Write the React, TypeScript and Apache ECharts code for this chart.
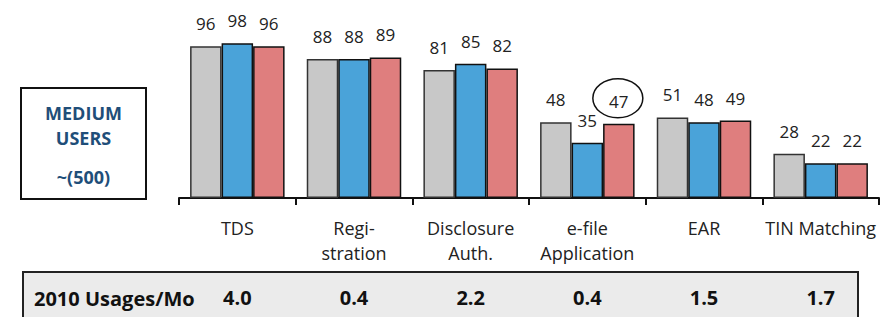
import React, { useEffect, useRef } from "react";
import * as echarts from "echarts";

const categories = ["TDS", "Regi-\nstration", "Disclosure\nAuth.", "e-file\nApplication", "EAR", "TIN Matching"];
const seriesGray = [96, 88, 81, 48, 51, 28];
const seriesBlue = [98, 88, 85, 35, 48, 22];
const seriesRed = [96, 89, 82, 47, 49, 22];
const usages = ["4.0", "0.4", "2.2", "0.4", "1.5", "1.7"];
const usagesTitle = "2010 Usages/Mo";
const boxLines = ["MEDIUM", "USERS", "~(500)"];
const circledSeries = 2;
const circledIndex = 3;

const FONT = "Open Sans";

export default function App() {
  const ref = useRef<HTMLDivElement>(null);
  useEffect(() => {
    document.body.style.margin = "0";
    if (!ref.current) return;
    const chart = echarts.init(ref.current, null, { renderer: "svg" });
    const label = {
      show: true,
      position: "top" as const,
      distance: 14,
      fontSize: 17,
      color: "#222",
      fontFamily: FONT,
    };
    const mk = (name: string, data: number[], color: string, border: string) => ({
      name,
      type: "bar" as const,
      data,
      xAxisIndex: 0,
      yAxisIndex: 0,
      barGap: "0%",
      barCategoryGap: "19%",
      itemStyle: { color, borderColor: border, borderWidth: 1.5 },
      label,
    });
    const option: any = {
      animation: false,
      textStyle: { fontFamily: FONT },
      grid: { left: 179, right: 12, top: 40, bottom: 119 },
      xAxis: [
        {
          type: "category",
          data: categories,
          axisLine: { lineStyle: { color: "#111", width: 2 } },
          axisTick: { show: true, length: 7, lineStyle: { color: "#111", width: 2 } },
          axisLabel: { fontSize: 18, color: "#222", margin: 17, lineHeight: 25, fontFamily: FONT, interval: 0 },
        },
        {
          type: "category",
          data: usages,
          position: "bottom",
          offset: 80,
          axisLine: { show: false },
          axisTick: { show: false },
          axisLabel: { fontSize: 20, fontWeight: "bold", color: "#111", margin: 9, fontFamily: FONT, interval: 0 },
        },
      ],
      yAxis: { type: "value", min: 0, max: 100, show: false },
      series: [
        mk("Gray", seriesGray, "#c8c8c8", "#333"),
        mk("Blue", seriesBlue, "#4aa3d9", "#111"),
        mk("Red", seriesRed, "#df7e7e", "#111"),
      ],
    };
    chart.setOption(option);

    let cx = 617;
    let cy = 98;
    try {
      const layout = (chart as any).getModel().getSeriesByIndex(circledSeries).getData().getItemLayout(circledIndex);
      if (layout) {
        cx = layout.x + layout.width / 2 - 1;
        cy = layout.y + Math.min(0, layout.height) - 25.5;
      }
    } catch (e) {}

    chart.setOption({
      graphic: [
        {
          type: "rect",
          shape: { x: 23, y: 272, width: 835, height: 60 },
          style: { fill: "#ebebeb", stroke: "#222", lineWidth: 2 },
          z: -1,
        },
        {
          type: "text",
          x: 34,
          y: 298,
          style: {
            text: usagesTitle,
            fontSize: 20,
            fontWeight: "bold",
            fontFamily: FONT,
            fill: "#111",
            verticalAlign: "middle",
            align: "left",
          },
        },
        {
          type: "rect",
          shape: { x: 21, y: 88, width: 125, height: 111 },
          style: { fill: "#fff", stroke: "#111", lineWidth: 2 },
        },
        ...boxLines.map((t, i) => ({
          type: "text",
          x: 83.5,
          y: [113, 138, 177][i],
          style: {
            text: t,
            fontSize: 18,
            fontWeight: "bold",
            fontFamily: FONT,
            fill: "#1f4e79",
            align: "center",
            verticalAlign: "middle",
          },
        })),
        {
          type: "ellipse",
          shape: { cx, cy, rx: 25, ry: 19.5 },
          style: { fill: "none", stroke: "#111", lineWidth: 1.5 },
        },
      ],
    });
    return () => chart.dispose();
  }, []);
  return <div ref={ref} style={{ width: 891, height: 317 }} />;
}
